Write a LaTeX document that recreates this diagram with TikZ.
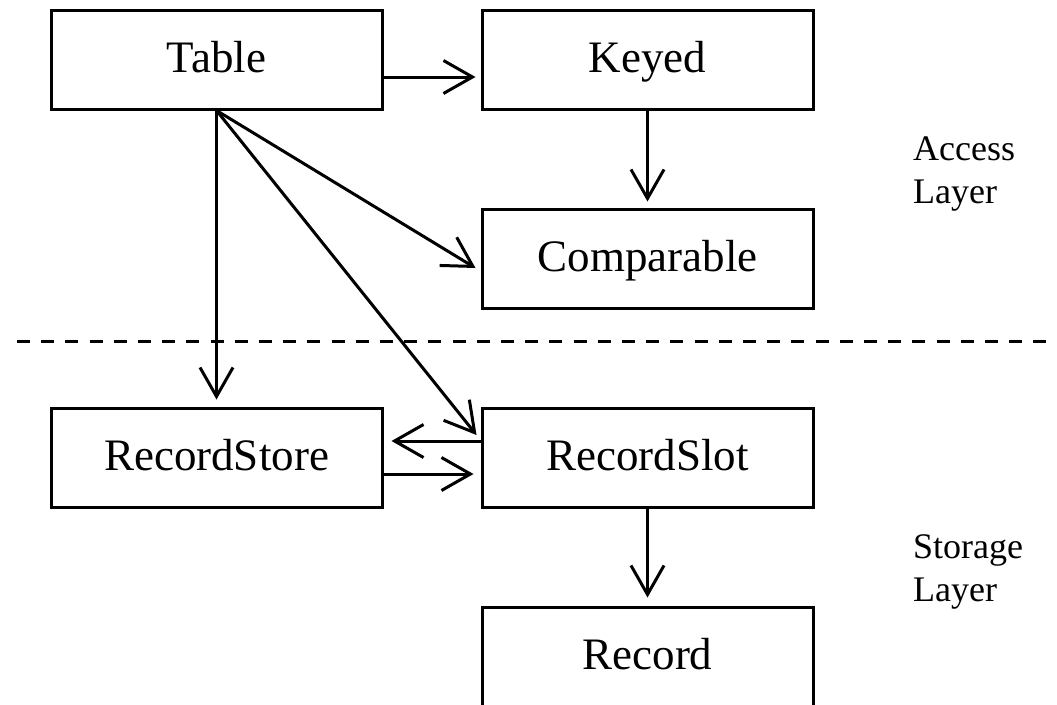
\documentclass[tikz,border=0pt]{standalone}
\usepackage{fontspec}
\setmainfont{Liberation Serif}
\usetikzlibrary{arrows.meta,calc}

\tikzset{
  box/.style={draw, line width=3pt, minimum width=331pt, minimum height=99pt,
    inner sep=0pt, text height=30pt, text depth=5pt,
    font=\fontsize{45}{54}\selectfont},
  link/.style={line width=3pt,
    -{Straight Barb[length=29pt,width=33pt,line width=3pt]}},
  layerlabel/.style={anchor=base west, align=left, inner sep=0pt,
    font=\fontsize{36}{43}\selectfont},
  separator/.style={line width=3pt, dash pattern=on 13pt off 11.2pt}
}

\begin{document}
\begin{tikzpicture}[x=1pt,y=-1pt]
  \useasboundingbox (0,0) rectangle (1057,704);

  % classes of the access layer
  \node[box] (Table)      at (216.5,59.5)  {Table};
  \node[box] (Keyed)      at (647.5,59.5)  {Keyed};
  \node[box] (Comparable) at (647.5,258.5) {Comparable};

  % classes of the storage layer
  \node[box] (RecordStore) at (216.5,457.5) {RecordStore};
  \node[box] (RecordSlot)  at (647.5,457.5) {RecordSlot};
  \node[box] (Record)      at (647.5,656.5) {Record};

  % layer boundary
  \coordinate (sepL) at (17,341);
  \coordinate (sepR) at (1057,341);
  \draw[separator] (sepL) -- (sepR);

  % layer captions (anchored on the baseline of the last line)
  \node[layerlabel] (access)  at (913,203) {Access\\Layer};
  \node[layerlabel] (storage) at (913,601) {Storage\\Layer};

  % dependencies
  \draw[link, shorten >=5pt] ($(Table.east)+(0,17.5)$) -- ($(Keyed.west)+(0,17.5)$);
  \draw[link, shorten >=6pt] (Keyed.south) -- (Comparable.north);
  \draw[link, shorten >=7pt] (Table.south) -- (RecordStore.north);
  \draw[link] (Table.south) -- ($(Comparable.west)+(-5,9.5)$);
  \draw[link] (Table.south) -- ($(RecordSlot.west)+(-4,-22.5)$);
  \draw[link, shorten >=8pt] ($(RecordSlot.west)+(0,-16.5)$) -- ($(RecordStore.east)+(0,-16.5)$);
  \draw[link, shorten >=7pt] ($(RecordStore.east)+(0,16.5)$) -- ($(RecordSlot.west)+(0,16.5)$);
  \draw[link, shorten >=8pt] (RecordSlot.south) -- (Record.north);
\end{tikzpicture}
\end{document}
